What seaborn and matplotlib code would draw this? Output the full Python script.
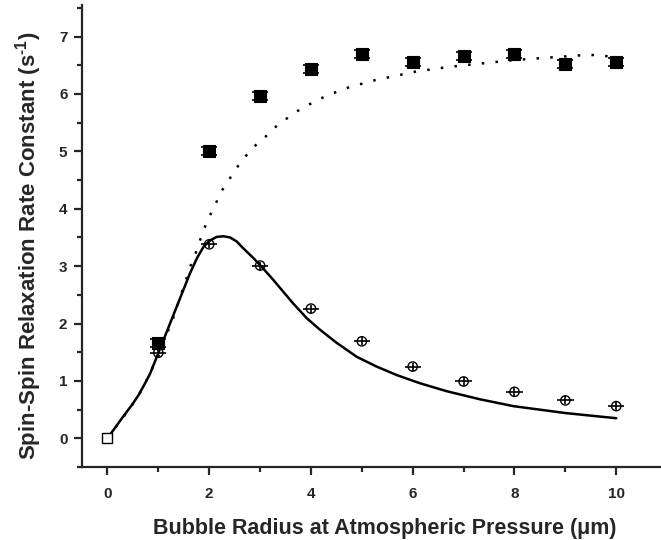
import matplotlib
matplotlib.use("Agg")
import matplotlib.pyplot as plt
from matplotlib.ticker import MultipleLocator
import seaborn as sns
import pandas as pd

# ---- data ----
radius = [1, 2, 3, 4, 5, 6, 7, 8, 9, 10]
rate_filled = [1.66, 5.00, 5.97, 6.43, 6.70, 6.56, 6.66, 6.69, 6.52, 6.55]
rate_open = [1.49, 3.38, 3.01, 2.26, 1.69, 1.25, 0.99, 0.81, 0.66, 0.56]
origin_x = [0]
origin_y = [0]
err_filled = [0.07] * 10
err_open_x = [0.16] * 10
err_open_y = [0.07] * 10

solid_x = [0, 0.31, 0.48, 0.61, 0.74, 0.84, 0.97, 1.10, 1.23, 1.36, 1.49, 1.62,
           1.76, 1.89, 2.02, 2.15, 2.28, 2.41, 2.54, 2.67, 2.87, 3.06, 3.26,
           3.45, 3.65, 3.92, 4.18, 4.51, 4.90, 5.29, 5.69, 6.14, 6.67, 7.32,
           7.98, 9.0, 10.0]
solid_y = [0, 0.38, 0.58, 0.75, 0.96, 1.13, 1.42, 1.71, 2.00, 2.29, 2.58, 2.87,
           3.14, 3.34, 3.45, 3.51, 3.52, 3.50, 3.43, 3.31, 3.14, 2.96, 2.76,
           2.56, 2.35, 2.09, 1.89, 1.66, 1.42, 1.25, 1.10, 0.96, 0.82, 0.68,
           0.56, 0.44, 0.35]

dotted_x = [0, 0.32, 0.47, 0.61, 0.72, 0.84, 0.92, 1.0, 1.19, 1.28, 1.35, 1.43,
            1.49, 1.57, 1.64, 1.72, 1.87, 1.95, 2.05, 2.15, 2.26, 2.40, 2.53,
            2.69, 2.88, 3.10, 3.31, 3.52, 3.73, 3.95, 4.16, 4.38, 4.59, 4.80,
            5.01, 5.21, 5.42, 6.06, 6.70, 7.34, 7.98, 8.61, 9.25, 9.6, 10.0]
dotted_y = [0, 0.38, 0.56, 0.74, 0.93, 1.13, 1.31, 1.42, 1.87, 2.06, 2.25, 2.44,
            2.63, 2.83, 3.02, 3.19, 3.58, 3.76, 3.95, 4.13, 4.33, 4.52, 4.70,
            4.89, 5.08, 5.25, 5.43, 5.57, 5.70, 5.81, 5.91, 5.99, 6.07, 6.13,
            6.18, 6.23, 6.27, 6.39, 6.47, 6.53, 6.59, 6.63, 6.67, 6.68, 6.64]

xlabel = "Bubble Radius at Atmospheric Pressure (\u03bcm)"
ylabel = "Spin-Spin Relaxation Rate Constant (s$^{\\text{-1}}$)"

# ---- style ----
sns.set_theme(style="ticks")
plt.rcParams["font.family"] = ["Liberation Sans", "DejaVu Sans"]
plt.rcParams["font.weight"] = "bold"
plt.rcParams["mathtext.fontset"] = "custom"
plt.rcParams["mathtext.rm"] = "Liberation Sans:bold"
plt.rcParams["mathtext.bf"] = "Liberation Sans:bold"
plt.rcParams["mathtext.default"] = "rm"

fig = plt.figure(figsize=(6.61, 5.40), dpi=100)
ax = fig.add_axes([82 / 661, 73 / 540, (660 - 82) / 661, (535 - 73) / 540])

df_solid = pd.DataFrame({"x": solid_x, "y": solid_y})
df_dot = pd.DataFrame({"x": dotted_x, "y": dotted_y})
sns.lineplot(data=df_solid, x="x", y="y", ax=ax, color="black", lw=1.8,
             sort=False, estimator=None)
sns.lineplot(data=df_dot, x="x", y="y", ax=ax, color="black", lw=1.8,
             sort=False, estimator=None, linestyle=(0, (1, 4.5)))

# error bars
ax.errorbar(radius, rate_filled, yerr=err_filled, fmt="none", ecolor="black",
            elinewidth=1.2, capsize=6, capthick=1.2, zorder=3)
ax.errorbar(radius, rate_open, xerr=err_open_x, yerr=err_open_y, fmt="none",
            ecolor="black", elinewidth=1.2, capsize=0, zorder=3)

df_f = pd.DataFrame({"x": radius, "y": rate_filled})
df_o = pd.DataFrame({"x": radius, "y": rate_open})
sns.scatterplot(data=df_f, x="x", y="y", ax=ax, marker="s", s=65,
                color="black", edgecolor="black", linewidth=0.8, zorder=4)
sns.scatterplot(data=df_o, x="x", y="y", ax=ax, marker="o", s=45,
                facecolor="none", edgecolor="black", linewidth=1.0, zorder=4)
sns.scatterplot(x=origin_x, y=origin_y, ax=ax, marker="s", s=50,
                facecolor="white", edgecolor="black", linewidth=1.0, zorder=5)

ax.set_xlim(-0.5, 10.86)
ax.set_ylim(-0.5, 7.55)
ax.xaxis.set_major_locator(MultipleLocator(2))
ax.xaxis.set_minor_locator(MultipleLocator(1))
ax.yaxis.set_major_locator(MultipleLocator(1))
ax.yaxis.set_minor_locator(MultipleLocator(0.5))

for s in ["top", "right"]:
    ax.spines[s].set_visible(False)
for s in ["left", "bottom"]:
    ax.spines[s].set_linewidth(1.6)
ax.tick_params(which="major", direction="out", length=5.5, width=1.6,
               labelsize=11)
ax.tick_params(which="minor", direction="out", length=3.5, width=1.6)
ax.tick_params(axis="x", which="major", pad=9)
ax.tick_params(axis="y", which="major", pad=5)
for lab in ax.get_xticklabels() + ax.get_yticklabels():
    lab.set_fontweight("bold")

ax.set_xlabel(xlabel, fontsize=15.5, fontweight="bold", labelpad=12)
ax.set_ylabel(ylabel, fontsize=16, fontweight="bold", labelpad=11)
ax.xaxis.label.set_x(0.524)
ax.yaxis.label.set_y(0.479)

fig.savefig("out.png", dpi=100)
